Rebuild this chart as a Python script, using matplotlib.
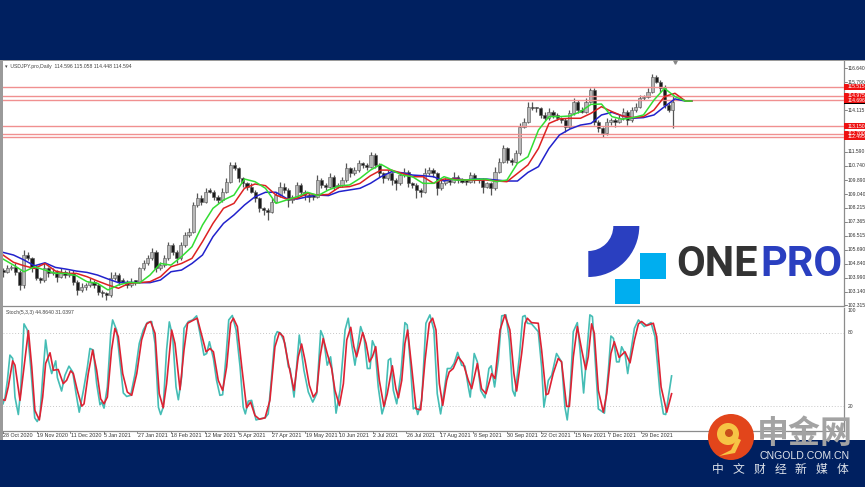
import numpy as np
import matplotlib
matplotlib.use("Agg")
import matplotlib.pyplot as plt
from matplotlib.patches import Rectangle, Wedge, Circle, Polygon
from matplotlib.transforms import blended_transform_factory

# daily closes (every second bar)
closes = [104.35, 104.55, 104.65, 104.35, 103.55, 105.36, 105.16, 104.55, 103.95, 103.85,
          104.55, 104.25, 104.35, 104.05, 104.35, 104.15, 104.25, 103.75, 103.25, 103.45,
          103.55, 103.75, 103.55, 103.14, 103.04, 102.94, 103.95, 104.15, 103.75, 103.75,
          103.55, 103.75, 103.75, 104.55, 104.85, 105.16, 105.56, 104.55, 104.75, 105.16,
          105.96, 105.56, 105.16, 105.96, 106.57, 106.77, 108.38, 108.78, 108.58, 109.19,
          109.19, 108.88, 108.68, 109.19, 109.79, 110.80, 110.60, 109.99, 109.69, 109.49,
          109.19, 108.78, 108.18, 108.08, 107.98, 108.58, 108.98, 109.49, 109.29, 108.68,
          108.88, 109.59, 109.19, 108.98, 108.88, 108.88, 109.89, 109.59, 109.49, 110.09,
          109.49, 109.59, 109.89, 110.60, 110.29, 110.49, 110.90, 110.80, 110.70, 111.40,
          110.80, 110.29, 109.99, 110.29, 109.89, 109.69, 110.19, 110.39, 109.69, 109.59,
          109.29, 109.19, 110.29, 110.49, 110.29, 109.39, 109.69, 109.89, 109.79, 110.09,
          109.89, 109.79, 109.79, 110.19, 109.89, 109.89, 109.49, 109.69, 109.39, 110.39,
          111.00, 111.80, 111.10, 111.00, 111.50, 113.11, 113.42, 114.32, 114.22, 114.22,
          113.82, 113.62, 114.02, 113.82, 113.62, 113.52, 113.11, 113.92, 114.62, 114.12,
          114.02, 114.62, 115.33, 113.42, 113.01, 112.71, 113.42, 113.52, 113.42, 113.62,
          114.02, 113.52, 114.12, 114.32, 114.82, 114.93, 115.23, 116.13, 115.83, 115.43,
          114.42, 114.12, 114.59]
upper_wick = [0.2, 0.2, 0.1, 0.2, 0.1, 0.3, 0.2, 0.1, 0.2, 0.1,
              0.3, 0.1, 0.2, 0.1, 0.2, 0.1, 0.2, 0.2, 0.1, 0.2,
              0.1, 0.2, 0.1, 0.1, 0.1, 0.1, 0.4, 0.2, 0.1, 0.2,
              0.1, 0.2, 0.1, 0.1, 0.2, 0.2, 0.2, 0.1, 0.2, 0.2,
              0.2, 0.1, 0.1, 0.2, 0.2, 0.2, 0.2, 0.3, 0.2, 0.2,
              0.2, 0.1, 0.1, 0.2, 0.2, 0.2, 0.2, 0.1, 0.1, 0.1,
              0.2, 0.1, 0.1, 0.1, 0.1, 0.2, 0.2, 0.3, 0.2, 0.1,
              0.1, 0.2, 0.1, 0.1, 0.1, 0.1, 0.3, 0.1, 0.1, 0.2,
              0.1, 0.1, 0.2, 0.3, 0.1, 0.2, 0.2, 0.1, 0.1, 0.2,
              0.1, 0.1, 0.1, 0.2, 0.1, 0.1, 0.2, 0.2, 0.1, 0.1,
              0.1, 0.1, 0.3, 0.2, 0.1, 0.1, 0.2, 0.1, 0.1, 0.3,
              0.1, 0.1, 0.1, 0.2, 0.1, 0.1, 0.1, 0.1, 0.1, 0.3,
              0.2, 0.2, 0.1, 0.1, 0.2, 0.2, 0.2, 0.3, 0.3, 0.1,
              0.1, 0.2, 0.2, 0.1, 0.1, 0.1, 0.1, 0.2, 0.2, 0.1,
              0.2, 0.2, 0.1, 0.1, 0.1, 0.1, 0.2, 0.1, 0.1, 0.2,
              0.2, 0.1, 0.2, 0.2, 0.2, 0.1, 0.2, 0.15, 0.1, 0.1,
              0.2, 0.1, 0.5]
lower_wick = [0.3, 0.1, 0.1, 0.2, 0.3, 0.2, 0.1, 0.2, 0.1, 0.2,
              0.1, 0.2, 0.1, 0.3, 0.1, 0.2, 0.1, 0.2, 0.3, 0.1,
              0.2, 0.1, 0.2, 0.2, 0.2, 0.3, 0.1, 0.1, 0.2, 0.1,
              0.2, 0.1, 0.2, 0.1, 0.1, 0.1, 0.1, 0.2, 0.1, 0.1,
              0.1, 0.2, 0.3, 0.1, 0.1, 0.1, 0.1, 0.1, 0.2, 0.1,
              0.1, 0.2, 0.2, 0.1, 0.1, 0.1, 0.1, 0.2, 0.2, 0.2,
              0.1, 0.2, 0.2, 0.3, 0.5, 0.1, 0.1, 0.1, 0.2, 0.4,
              0.2, 0.1, 0.2, 0.3, 0.3, 0.2, 0.1, 0.2, 0.2, 0.1,
              0.2, 0.1, 0.1, 0.1, 0.2, 0.1, 0.1, 0.2, 0.2, 0.1,
              0.2, 0.2, 0.3, 0.1, 0.3, 0.4, 0.1, 0.1, 0.2, 0.2,
              0.5, 0.3, 0.1, 0.1, 0.2, 0.4, 0.1, 0.1, 0.2, 0.1,
              0.2, 0.1, 0.2, 0.1, 0.2, 0.2, 0.4, 0.1, 0.4, 0.1,
              0.1, 0.1, 0.2, 0.2, 0.1, 0.1, 0.1, 0.1, 0.1, 0.2,
              0.2, 0.1, 0.1, 0.2, 0.1, 0.2, 0.3, 0.1, 0.1, 0.2,
              0.1, 0.1, 0.1, 0.2, 0.2, 0.2, 0.1, 0.2, 0.3, 0.1,
              0.1, 0.3, 0.1, 0.1, 0.1, 0.1, 0.1, 0.1, 0.1, 0.2,
              0.2, 0.1, 1.1]
last_bar = 319

# moving averages, one reading every 5 bars
ma_index = [0, 5, 10, 15, 20, 25, 30, 35, 40, 45, 50, 55, 60, 65, 70, 75, 80, 85, 90, 95,
            100, 105, 110, 115, 120, 125, 130, 135, 140, 145, 150, 155, 160, 165, 170, 175,
            180, 185, 190, 195, 200, 205, 210, 215, 220, 225, 230, 235, 240, 245, 250, 255,
            260, 265, 270, 275, 280, 285, 290, 295, 300, 305, 310, 315, 320, 325, 328]
ma_green = [105.12, 104.75, 104.35, 104.65, 104.45, 104.25, 104.25, 104.11, 103.75, 103.65,
            103.25, 103.55, 103.71, 103.67, 104.15, 104.85, 104.75, 105.26, 105.86, 107.17,
            108.18, 108.68, 108.98, 109.95, 109.79, 109.39, 108.48, 108.68,
            108.88, 109.15, 108.95, 109.29, 109.53, 109.59, 109.99, 110.49, 110.84, 110.49,
            110.19, 110.09, 109.69, 109.69, 110.09, 109.89, 109.89, 109.93, 109.95, 109.79,
            109.89, 110.90, 111.30, 112.91, 113.72, 113.72, 113.76,
            114.02, 114.46, 114.48, 113.72, 113.56, 113.66, 113.82, 114.72, 115.43, 114.93,
            114.66, 114.66]
ma_red = [105.36, 104.92, 104.71, 104.55, 104.85, 104.39, 104.25, 104.25, 104.05, 103.79,
          103.55, 103.35, 103.65, 103.69, 103.75, 104.05, 104.65, 104.85, 105.16, 106.17,
          107.27, 108.18, 108.48, 109.39, 109.65, 109.55, 108.98, 108.74,
          108.78, 109.08, 108.98, 109.02, 109.45, 109.49, 109.69, 110.15, 110.49, 110.49,
          110.29, 110.09, 110.09, 109.69, 109.95, 109.95, 109.89, 109.89, 109.89, 109.83,
          109.79, 110.29, 110.80, 111.80, 113.31, 113.58, 113.62,
          113.62, 113.92, 114.32, 114.02, 113.76, 113.66, 113.72, 114.12, 114.93, 115.13,
          114.66, 114.66]
ma_blue = [105.52, 105.36, 105.06, 104.71, 104.89, 104.61, 104.51, 104.39, 104.31, 104.15,
           103.91, 103.69, 103.71, 103.69, 103.69, 103.85, 104.35, 104.45, 104.85, 105.36,
           106.47, 107.27, 107.78, 108.38, 108.88, 109.15, 109.15, 108.78,
           108.74, 108.88, 108.98, 108.95, 109.19, 109.29, 109.39, 109.69, 110.09, 110.39,
           110.33, 110.19, 110.15, 110.09, 109.83, 109.99, 109.89, 109.95, 109.95, 109.89,
           109.83, 109.83, 110.35, 110.70, 111.80, 112.61, 112.97,
           113.21, 113.31, 113.82, 113.98, 113.76, 113.62, 113.66, 113.82, 114.32, 114.79,
           114.66, 114.66]

# stochastic, turning points
stoch_main = [(0, 22.1), (1, 27.6), (2.1, 41.2), (3.3, 61.7), (4.6, 59.0), (5.7, 27.6), (7.3, 13.4), (8.4, 33.0),
              (10, 87.1), (11.6, 82.1), (13.2, 52.1), (15.1, 10.7), (16.3, 7.7), (17.6, 12.6), (18.9, 44.0),
              (20.3, 74.0), (21.6, 57.6), (23.2, 46.7), (25.1, 57.0), (25.9, 43.4), (27.9, 32.5), (29.5, 45.3),
              (31.4, 52.7), (33.2, 48.0), (34.8, 30.3), (36.3, 15.3), (38.3, 33.0), (40.2, 52.1), (41.4, 67.1),
              (43, 65.8), (44.6, 38.5), (46.2, 21.3), (47, 23.5), (48.1, 18.6), (49.7, 35.8), (51.3, 79.4),
              (52.2, 90.3), (54.1, 82.1), (56, 52.1), (57.3, 30.9), (58.9, 28.1), (60.8, 29.0), (62.9, 46.7),
              (64.9, 71.2), (66.8, 82.1), (68.7, 88.1), (70.8, 89.0), (72.4, 71.2), (74, 19.4), (75.1, 13.4),
              (76.3, 19.4), (77.9, 65.8), (79.2, 88.7), (80.8, 76.7), (82.4, 35.8), (83.5, 25.4), (85.1, 44.0),
              (86.2, 83.5), (88.3, 89), (90.3, 90.3), (92.2, 93.6), (93.8, 79.4), (95.7, 61.7), (97, 63.0),
              (98.3, 72.6), (100.2, 59), (101.7, 41.2), (103.3, 29), (104.6, 29.5), (106.2, 60.3), (107.5, 90.3),
              (109.2, 93.9), (111, 82.1), (112.9, 52.1), (114.4, 19.4), (115.4, 13.9), (116.8, 24.3), (118.4, 24.9),
              (120.5, 9), (122.4, 9.9), (124.8, 10.7), (126.3, 13.9), (127.9, 44), (129.5, 76.7), (130.6, 80.8),
              (132.2, 79.4), (134.3, 71.2), (135.9, 52.1), (136.7, 50.8), (138.6, 27.6), (141.1, 78), (143.3, 49.4),
              (145.4, 31.7), (147.5, 23.5), (149.4, 30.3), (151.3, 81.6), (152.5, 76.7), (154.4, 53.5), (156, 60.3),
              (157.3, 41.2), (158.6, 14.5), (160.5, 33), (162.9, 82.1), (164.4, 91.7), (166, 71.2), (167.6, 53.5),
              (170.3, 84.9), (171.9, 76.7), (173.5, 50.8), (174.8, 50.8), (175.9, 73.4), (177.1, 68.5), (178.7, 35.8),
              (180.5, 13.9), (181.9, 22.1), (183.5, 57.6), (184.6, 59), (185.9, 33), (187.5, 22.1), (189.5, 46.7),
              (191.4, 88.1), (192.5, 86.2), (194.1, 52.1), (195.4, 18), (196.7, 19.4), (197.5, 13.4), (199.4, 24.9),
              (201.4, 87.6), (203.3, 94.4), (205.2, 82.1), (206.8, 30.3), (208.4, 13.9), (210, 31.7), (211.6, 50.8),
              (213.2, 50.8), (214.8, 54.9), (216.5, 63.9), (218.4, 53.5), (220, 52.7), (221.6, 35.8), (222.5, 27.6),
              (224.4, 63), (225.9, 56.2), (227.5, 33), (229.5, 27), (231.4, 50.8), (232.5, 53), (234.1, 35.8),
              (235.9, 57.6), (237.5, 93.6), (239.5, 94.4), (241.1, 74), (242.7, 33), (243.8, 28.4), (245.9, 60.3),
              (247.5, 93), (248.6, 93.9), (249.7, 87.6), (251.7, 87.1), (254.9, 80.8), (256.5, 52.1), (257.6, 19.4),
              (259.7, 41.2), (261.3, 45.3), (263.6, 63), (266, 56.2), (267.6, 19.4), (268.7, 9), (270, 30.3),
              (271.6, 80.8), (273.5, 88.1), (274.8, 65.8), (276.5, 30.9), (278.4, 71.2), (279.5, 94.4), (280.7, 93),
              (281.9, 60.3), (283.5, 18), (286.4, 14.5), (288.3, 49.4), (289.5, 77.2), (290.7, 75.3), (292.2, 56.2),
              (293.4, 56.2), (294.6, 68.5), (296.2, 63), (297.5, 46.7), (299.1, 65.8), (300.7, 83.5), (302.6, 90.3),
              (305.4, 84.9), (308.6, 88.1), (310.5, 76.7), (312.9, 30.3), (314.5, 13.9), (315.6, 13.4), (318.4, 44.8)]
stoch_signal = [(0, 25.4), (1, 24.9), (2.5, 35.8), (4.6, 57), (5.7, 53.5), (8.1, 24.9), (10, 52.1), (12.1, 81.6),
                (13.7, 52.1), (15.2, 16.7), (17.3, 9), (18.9, 27.6), (20.3, 54.9), (22.4, 63.6), (24, 49.4), (26.3, 50),
                (28.7, 38.5), (30.3, 41.2), (32.2, 48.9), (33.5, 46.7), (35.4, 33), (37.5, 20.2), (38.6, 22.1),
                (40.6, 46.7), (42.7, 65.8), (44.6, 49.4), (46.5, 26.2), (48.1, 22.1), (49.7, 27.6), (51.7, 65.8),
                (53.3, 83.5), (54.9, 76.7), (57, 46.7), (59.2, 31.7), (61.3, 29), (63.7, 46.7), (66, 74), (68.4, 87.1),
                (70.3, 89), (72.4, 79.4), (74.4, 30.3), (76.3, 18.9), (77.9, 38.5), (80.3, 82.1), (81.9, 71.2),
                (84.3, 33.6), (86.2, 65.8), (87.9, 87.6), (90.3, 89.8), (92.5, 91.7), (94.6, 78), (96.7, 64.4),
                (98.6, 67.1), (100.2, 64.4), (102.5, 41.2), (104.6, 33), (106.5, 52.1), (108.4, 87.6), (109.7, 91.7),
                (111.6, 84.9), (113.7, 52.1), (116, 18.9), (117.9, 23.5), (120, 12.6), (122.1, 9.6), (124.8, 10.7),
                (127.1, 24.9), (129.5, 68.5), (131.6, 80), (133.5, 76.7), (135.9, 54.9), (138.6, 33), (140.6, 60.3),
                (142.2, 70.7), (143.8, 57.6), (145.9, 37.1), (147.8, 27.6), (149.4, 31.7), (151, 60.3), (152.5, 75.3),
                (154.4, 63), (156.5, 50.8), (158.1, 33), (160.2, 20.8), (162.1, 38.5), (163.7, 74), (165.6, 84.3),
                (167.1, 68.5), (168.4, 60.3), (171.3, 80), (172.9, 71.2), (174.5, 56.2), (175.9, 60.3), (177.5, 68.5),
                (179.2, 41.2), (181.4, 20), (183, 30.3), (185.4, 53), (187.1, 34.4), (188.3, 27), (189.9, 41.2),
                (191.4, 71.2), (192.7, 82.1), (194.6, 52.1), (196.7, 18), (198.9, 17.2), (201, 57.6), (203, 87.6),
                (204.6, 91.7), (206.2, 82.1), (207.8, 38.5), (209.4, 20.8), (211.3, 41.2), (212.5, 48), (214.4, 50.8),
                (216.8, 60.3), (219.2, 54.9), (221.6, 41.2), (223.2, 34.4), (225.9, 54.9), (227.9, 34.4), (230, 30.3),
                (232.7, 46.7), (234.3, 42.6), (236.7, 82.1), (239, 94.4), (241.4, 82.1), (243.3, 46.7), (244.6, 32.5),
                (247, 63), (248.6, 87.6), (249.7, 91.7), (251.7, 88.1), (254.9, 87.6), (256.5, 65.8), (258.6, 29.5),
                (259.7, 30.3), (262, 46.7), (264.4, 59), (266, 56.2), (268.4, 20), (269.7, 20), (271.6, 60.3),
                (273.5, 84.9), (275.6, 65.8), (277.5, 50), (278.7, 60.3), (280.3, 87.1), (281.6, 79.4), (283.5, 33),
                (285.9, 15.3), (287.5, 30.3), (289.5, 63), (291.1, 72.6), (293.4, 59.8), (296.2, 64.4), (298.6, 55.4),
                (300.7, 74), (302.6, 87.1), (304.1, 89), (306.5, 85.7), (309.7, 87.6), (311.3, 76.7), (313.4, 35.8),
                (316.1, 15.3), (318.4, 30.3)]

level_prices = [115.515, 114.975, 114.696, 113.150, 112.700, 112.495]
price_ticks = [116.640, 115.790, 114.115, 111.590, 110.740, 109.890, 109.040, 108.215,
               107.365, 106.515, 105.690, 104.840, 103.990, 103.140, 102.315]
date_labels = ["28 Oct 2020", "19 Nov 2020", "11 Dec 2020", "5 Jan 2021", "27 Jan 2021",
               "18 Feb 2021", "12 Mar 2021", "5 Apr 2021", "27 Apr 2021", "19 May 2021",
               "10 Jun 2021", "2 Jul 2021", "26 Jul 2021", "17 Aug 2021", "8 Sep 2021",
               "30 Sep 2021", "22 Oct 2021", "15 Nov 2021", "7 Dec 2021", "29 Dec 2021"]
date_step = 16
current_price = 114.594

NAVY = "#002060"
SMALL = "Liberation Sans"
W, H = 865, 487
fig = plt.figure(figsize=(W / 100, H / 100), dpi=100, facecolor=NAVY)


def box(x0, y0, x1, y1):
    # pixel box (from top left) -> figure fractions
    return [x0 / W, 1 - y1 / H, (x1 - x0) / W, (y1 - y0) / H]


# white chart panel behind everything
back = fig.add_axes([0, 0, 1, 1], zorder=0)
back.set_xlim(0, W)
back.set_ylim(H, 0)
back.axis("off")
back.add_patch(Rectangle((0, 60), W, 380, fc="white", ec="none"))
back.add_patch(Rectangle((0, 60), 3, 380, fc="#9a9a9a", ec="none"))
back.add_patch(Rectangle((0, 60), W, 1.2, fc="#9a9a9a", ec="none"))

ax = fig.add_axes(box(3, 61, 844, 306), zorder=1, facecolor="white")
ax2 = fig.add_axes(box(3, 308, 844, 431), zorder=1, facecolor="white")
for a in (ax, ax2):
    a.set_xlim(0, 400.5)
    a.set_xticks([])
    a.set_yticks([])
    for s in a.spines.values():
        s.set_color("#8c8c8c")
        s.set_linewidth(0.9)
    a.spines["left"].set_visible(False)
    a.spines["top"].set_visible(False)
ax.set_ylim(102.28, 117.08)
ax2.set_ylim(0, 100)

# candles
closes = np.array(closes)
opens = np.r_[closes[0], closes[:-1]]
bar_x = np.linspace(0, last_bar, len(closes))
top = np.maximum(opens, closes)
bottom = np.minimum(opens, closes)
ax.vlines(bar_x, bottom - np.array(lower_wick), top + np.array(upper_wick), color="#555555", lw=0.9, zorder=2)
face = ["#b8b8b8" if c > o else "#1a1a1a" for o, c in zip(opens, closes)]
ax.bar(bar_x, np.maximum(top - bottom, 0.08), bottom=bottom, width=1.5, color=face,
       edgecolor="#555555", linewidth=0.4, zorder=3)

# support / resistance levels
for p in level_prices:
    ax.axhline(p, color="#f09090", lw=1.0, zorder=4)

ax.plot(ma_index, ma_blue, color="#2222cc", lw=1.1, zorder=5)
ax.plot(ma_index, ma_red, color="#dd2222", lw=1.1, zorder=6)
ax.plot(ma_index, ma_green, color="#33dd33", lw=1.1, zorder=7)

# right hand price scale
ty = blended_transform_factory(ax.transAxes, ax.transData)
lab_x = 1.0044
for p in price_ticks:
    ax.plot([1.0, 1.003], [p, p], color="#555555", lw=0.5, transform=ty, clip_on=False)
    ax.text(lab_x, p, "%.3f" % p, transform=ty, fontsize=3.6, color="#333333", va="center", ha="left",
            clip_on=False, family=SMALL)
ax.add_patch(Rectangle((1.0, current_price - 0.14), 0.025, 0.28, transform=ty, fc="black", ec="none",
                       clip_on=False, zorder=8))
for p in level_prices:
    ax.add_patch(Rectangle((1.0, p - 0.16), 0.025, 0.32, transform=ty, fc="#ee1111", ec="none",
                           clip_on=False, zorder=9))
    ax.text(lab_x, p, "%.3f" % p, transform=ty, fontsize=3.6, color="white", va="center", ha="left",
            clip_on=False, zorder=10, family=SMALL)

ax.text(0.0025, 0.987, "\u25be  USDJPY.pro,Daily  114.596 115.058 114.448 114.594", transform=ax.transAxes,
        fontsize=3.7, color="#444444", va="top", ha="left", family=["Liberation Sans", "DejaVu Sans"])

# stochastic panel
ax2.axhline(80, color="#c8c8c8", lw=0.7, ls=(0, (1, 2)))
ax2.axhline(20, color="#c8c8c8", lw=0.7, ls=(0, (1, 2)))
main_x, main_y = zip(*stoch_main)
sig_x, sig_y = zip(*stoch_signal)
ax2.plot(main_x, main_y, color="#45bdb5", lw=1.2, zorder=3)
ax2.plot(sig_x, sig_y, color="#dd2233", lw=1.2, zorder=4)
ax2.text(0.0035, 0.985, "Stoch(5,3,3) 44.8640 31.0397", transform=ax2.transAxes,
         fontsize=3.7, color="#444444", va="top", ha="left", family=SMALL)
ty2 = blended_transform_factory(ax2.transAxes, ax2.transData)
for v in [80, 20]:
    ax2.text(lab_x, v, str(v), transform=ty2, fontsize=3.6, color="#333333", va="center", clip_on=False, family=SMALL)
ax2.text(lab_x, 98, "100", transform=ty2, fontsize=3.6, color="#333333", va="center", clip_on=False, family=SMALL)

# date axis
for i, lab in enumerate(date_labels):
    xpos = i * date_step
    ax2.plot([xpos, xpos], [0, -2], color="#555555", lw=0.5, clip_on=False)
    ax2.annotate(lab, (xpos, 0), xytext=(0.3, -1.6), textcoords="offset points", fontsize=3.9,
                 color="#333333", va="top", ha="left", annotation_clip=False, family=SMALL)

# logos on top, pixel coordinates
top_ax = fig.add_axes([0, 0, 1, 1], zorder=5)
top_ax.set_xlim(0, W)
top_ax.set_ylim(H, 0)
top_ax.axis("off")
top_ax.patch.set_alpha(0)
top_ax.add_patch(Wedge((588.3, 226), 51, 0, 90, width=26, fc="#2a3fc0", ec="none"))
top_ax.add_patch(Rectangle((639.5, 253), 26, 25.5, fc="#00aeef", ec="none"))
top_ax.add_patch(Rectangle((615, 278.5), 24.5, 25, fc="#00aeef", ec="none"))
top_ax.text(676, 265, "ONE", fontsize=30, fontweight="bold", color="#333333", family="Roboto", va="center", ha="left")
top_ax.text(760, 265, "PRO", fontsize=30, fontweight="bold", color="#2a3fc0", family="Roboto", va="center", ha="left")

top_ax.plot([675], [61.5], marker="v", ms=2.5, color="#888888")

top_ax.add_patch(Circle((731, 437), 23, fc="#e2451b", ec="none"))
top_ax.add_patch(Circle((728, 434), 11, fc="#f6c445", ec="none"))
top_ax.add_patch(Circle((729, 433), 4, fc="#c8501a", ec="none"))
top_ax.add_patch(Polygon([[719, 456], [731, 450], [737, 438], [741, 440], [735, 453]], fc="#f6c445", ec="none"))

cjk = ["Noto Sans CJK SC", "DejaVu Sans"]
top_ax.text(805, 433.5, "\u7533\u91d1\u7f51", fontsize=23, fontweight="bold", color="#a3a3a3", family=cjk,
            va="center", ha="center")
top_ax.text(805, 456, "CNGOLD.COM.CN", fontsize=7.6, color="#dfe3ea", va="center", ha="center", family="Liberation Sans")
for i, ch in enumerate("\u4e2d\u6587\u8d22\u7ecf\u65b0\u5a92\u4f53"):
    top_ax.text(718 + i * 20.7, 469, ch, fontsize=8.5, color="#dfe3ea", family=cjk, va="center", ha="center")

fig.savefig("out.png", dpi=100, facecolor=NAVY)
